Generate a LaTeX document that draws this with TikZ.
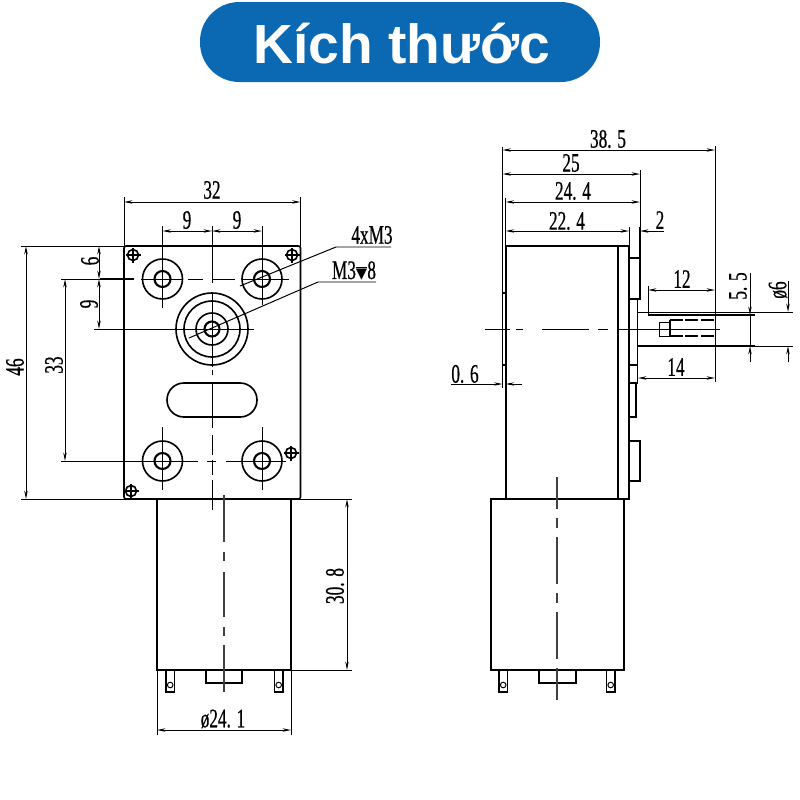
\documentclass[tikz,border=0pt]{standalone}
\usepackage{fontspec}
\usepackage{xcolor}
\usetikzlibrary{arrows.meta}
\setmainfont{Liberation Sans}
\newfontfamily\dimfont[FakeStretch=0.645,FakeBold=0.5]{Liberation Serif}
\newfontfamily\symfont{DejaVu Sans}
\definecolor{bannerblue}{HTML}{0B69B4}
\tikzset{
    outline/.style={black,line width=1.15pt},
    thinline/.style={black,line width=0.7pt},
    heavyline/.style={black,line width=1.5pt},
    centreline/.style={black!75,line width=1.1pt},
    dimline/.style={thinline,{Stealth[length=6pt,width=2.4pt]}-{Stealth[length=6pt,width=2.4pt]}},
    arrowend/.style={thinline,-{Stealth[length=6pt,width=2.4pt]}},
    dimtext/.style={inner sep=0pt,font=\dimfont\fontsize{19}{20}\selectfont},
}

\begin{document}
\begin{tikzpicture}[x=0.25mm,y=-0.25mm]
    \useasboundingbox (0,0) rectangle (800,800);

    % Banner
    \fill[bannerblue,rounded corners=28pt] (200,2) rectangle (600,82);
    \node[text=white,inner sep=0pt,font=\bfseries\fontsize{39.2}{44}\selectfont] (title) at (402,44) {Kích thước};

    % Front view
    \begin{scope}
        % Plate
        \draw[outline,rounded corners=1.5pt] (124,246) rectangle (300.5,499);
        \draw[outline,rounded corners=12pt] (167,383) rectangle (257,417);

        % Mounting holes and their centre lines
        \foreach \x / \v in { 162.5/279,262/279,162.5/461,262/461 } {
            \draw[outline] (\x,\v) circle (20);
            \draw[heavyline] (\x,\v) circle (8);
        }
        \draw[thinline] (162.5,226) -- (162.5,308);
        \draw[thinline] (262,226) -- (262,305);
        \draw[thinline] (162.5,427) -- (162.5,490);
        \draw[thinline] (262,427) -- (262,490);
        \draw[thinline] (61,279) -- (100,279);
        \draw[heavyline] (100,279) -- (134,279);
        \foreach \a / \b in { 141/182,188/203,213/235,242/289 } {
            \draw[thinline] (\a,279) -- (\b,279);
        }
        \foreach \a / \b in { 61/198,207/216,226/286 } {
            \draw[thinline] (\a,461) -- (\b,461);
        }

        % Output boss
        \foreach \r in { 36,28,16 } {
            \draw[outline] (212,329) circle (\r);
        }
        \draw[heavyline] (212,329) circle (7.5);
        \draw[thinline] (94,329) -- (254,329);

        % Vertical centre line
        \foreach \a / \b in { 226/283,292/367,370/375,383/428,435/455,460/475,480/510 } {
            \draw[thinline] (212,\a) -- (212,\b);
        }

        % Small screws
        \foreach \x / \v in { 133/255,292/255,291/453,131/491 } {
            \draw[outline] (\x,\v) circle (5.5);
            \draw[outline] (\x-7.5,\v) -- (\x+7.5,\v);
            \draw[outline] (\x,\v-7.5) -- (\x,\v+7.5);
        }

        % Dimensions
        \draw[thinline] (124,197) -- (124,246);
        \draw[thinline] (300.5,197) -- (300.5,246);
        \draw[dimline] (124,202) -- (300.5,202);
        \node[dimtext] (w32) at (212,190) {32};
        \draw[dimline] (212,231) -- (162.5,231);
        \draw[dimline] (212,231) -- (262,231);
        \node[dimtext] (w9a) at (187,220) {9};
        \node[dimtext] (w9b) at (237,220) {9};

        \draw[thinline] (21,246) -- (124,246);
        \draw[thinline] (21,499) -- (157,499);
        \draw[dimline] (26,246) -- (26,499);
        \node[dimtext,rotate=90] (h46) at (15,367) {46};
        \draw[dimline] (65,279) -- (65,461);
        \node[dimtext,rotate=90] (h33) at (54,365) {33};
        \draw[dimline] (99,246) -- (99,279);
        \node[dimtext,rotate=90] (h6) at (90,261) {6};
        \draw[dimline] (99,279) -- (99,329);
        \node[dimtext,rotate=90] (h9) at (89,304) {9};

        % Leaders
        \draw[thinline] (240,286) -- (336,247) -- (391,247);
        \node[dimtext] (holes) at (372,235) {4xM3};
        \draw[thinline] (189,338) -- (318,282) -- (376,282);
        \node[dimtext] (depth) at (354,271) {M3{\symfont\fontsize{10.5}{11}\selectfont\rlap{\raisebox{7.5pt}{\rule{8pt}{0.8pt}}}▼}8};
    \end{scope}

    % Front view, motor
    \begin{scope}
        \draw[outline] (157,499) rectangle (291,670);
        \draw[outline] (206,670) rectangle (242,683);
        \foreach \x in { 166,274.5 } {
            \draw[outline] (\x,670) rectangle (\x+8.5,692);
            \draw[thinline] (\x+4.2,685) circle (2.8);
        }
        \draw[thinline] (212,499) -- (212,506);
        \foreach \a / \b in { 495/542,552/561,572/617,627/636,645/692 } {
            \draw[centreline] (224,\a) -- (224,\b);
        }

        % Dimensions
        \draw[thinline] (291,499) -- (352,499);
        \draw[thinline] (291,670) -- (352,670);
        \draw[dimline] (347,499) -- (347,670);
        \node[dimtext,rotate=90] (len) at (335,586) {30. 8};
        \draw[thinline] (157,670) -- (157,735);
        \draw[thinline] (291,670) -- (291,735);
        \draw[dimline] (157,730) -- (291,730);
        \node[dimtext] (dia) at (223,719) {ø24. 1};
    \end{scope}

    % Side view
    \begin{scope}
        % Body
        \draw[outline] (505.7,246) rectangle (629,499);
        \draw[outline] (618,246) -- (618,499);
        \draw[outline] (502.5,147) -- (502.5,293);
        \draw[outline] (502.5,293) rectangle (505.7,365);

        % Plates on the output side
        \draw[outline] (640,227) -- (640,258) -- (629,258);
        \draw[outline] (629,258) rectangle (640,299);
        \draw[outline] (629,299) rectangle (637.5,365);
        \draw[outline] (629,365) rectangle (637.5,383);
        \draw[outline] (629,383) rectangle (636,417);
        \draw[outline] (629,441) rectangle (640,481);

        % Shaft
        \draw[thinline] (638,312) -- (793,312);
        \draw[outline] (648,315) -- (755,315);
        \draw[outline] (638,346) -- (755,346);
        \draw[thinline] (755,346) -- (793,346);
        \draw[thinline] (659,322) rectangle (670,336);
        \draw[outline] (670,320) -- (670,336);
        \draw[heavyline,dash pattern=on 9pt off 2pt] (670,320) -- (715,320);
        \draw[heavyline,dash pattern=on 9pt off 2pt] (670,336) -- (715,336);

        % Horizontal centre line
        \foreach \a / \b in { 485/510,516/523,542/589,598/608,617/720 } {
            \draw[thinline] (\a,329) -- (\b,329);
        }

        % Dimensions
        \draw[thinline] (715,146) -- (715,382);
        \draw[dimline] (502.5,150) -- (715,150);
        \node[dimtext] (d385) at (608,139) {38. 5};
        \draw[thinline] (640,170) -- (640,227);
        \draw[dimline] (502.5,174) -- (640,174);
        \node[dimtext] (d25) at (571,163) {25};
        \draw[thinline] (505.7,198) -- (505.7,246);
        \draw[dimline] (505.7,202) -- (640,202);
        \node[dimtext] (d244) at (573,191) {24. 4};
        \draw[dimline] (505.7,231) -- (629,231);
        \node[dimtext] (d224) at (567,221) {22. 4};
        \draw[thinline] (629,227) -- (629,246);
        \draw[arrowend] (664,231) -- (640,231);
        \node[dimtext] (d2) at (660,220) {2};

        \draw[thinline] (648,286) -- (648,315);
        \draw[dimline] (648,290) -- (715,290);
        \node[dimtext] (d12) at (682,279) {12};
        \draw[dimline] (638,378) -- (715,378);
        \node[dimtext] (d14) at (676,367) {14};

        \draw[thinline] (750,315) -- (750,346);
        \draw[arrowend] (750,273) -- (750,315);
        \draw[arrowend] (750,362) -- (750,346);
        \node[dimtext,rotate=90] (d55) at (738,286) {5. 5};
        \draw[arrowend] (788,281) -- (788,312);
        \draw[arrowend] (788,362) -- (788,346);
        \node[dimtext,rotate=90] (d6) at (778,290) {ø6};

        \draw[thinline] (502.5,365) -- (502.5,388);
        \draw[thinline] (505.7,365) -- (505.7,388);
        \draw[arrowend] (451,384) -- (502.5,384);
        \draw[arrowend] (522,384) -- (505.7,384);
        \node[dimtext] (d06) at (465,374) {0. 6};
    \end{scope}

    % Side view, motor
    \begin{scope}
        \draw[outline] (490.7,499) rectangle (624,670);
        \draw[outline] (539,670) rectangle (576,683);
        \foreach \x in { 499,606.5 } {
            \draw[outline] (\x,670) rectangle (\x+8.5,692);
            \draw[thinline] (\x+4.2,685) circle (2.8);
        }
        \foreach \a / \b in { 477/509,518/528,537/584,593/603,612/659,668/700 } {
            \draw[centreline] (557,\a) -- (557,\b);
        }
    \end{scope}
\end{tikzpicture}
\end{document}
